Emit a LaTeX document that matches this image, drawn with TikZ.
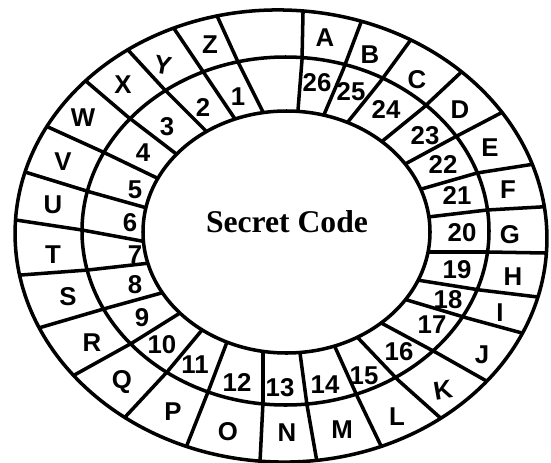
\documentclass[tikz,border=0pt]{standalone}
\usepackage{fontspec}
\setmainfont{Liberation Serif}
\setsansfont{Liberation Sans}

\tikzset{
  letter/.style={font=\sffamily\bfseries\fontsize{22}{26}\selectfont,inner sep=0pt},
  numlabel/.style={font=\sffamily\bfseries\fontsize{22}{26}\selectfont,inner sep=0pt},
  title/.style={font=\rmfamily\bfseries\fontsize{27}{32}\selectfont,inner sep=0pt},
  spoke/.style={shorten <=-6pt,shorten >=-6pt},
}

\begin{document}
\begin{tikzpicture}[x=0.3mm,y=-0.3mm,line width=3pt,line cap=round,line join=round]
\path[use as bounding box] (0,0) rectangle (551,462);
% spokes, outer -> middle -> inner
\begin{scope}
\clip[rotate around={-2:(281,236)}] (281,236) ellipse [x radius=266,y radius=226];
\draw[spoke] (303,13) -- (302,60) -- (298,110);
\draw[spoke] (360,25) -- (343,70) -- (323,117);
\draw[spoke] (407,45) -- (380,82) -- (347,123);
\draw[spoke] (455,78) -- (423,108) -- (380,143);
\draw[spoke] (497,115) -- (455,137) -- (407,163);
\draw[spoke] (528,165) -- (477,173) -- (418,190);
\draw[spoke] (540,207) -- (487,210) -- (428,217);
\draw[spoke] (545,253) -- (488,252) -- (427,252);
\draw[spoke] (538,297) -- (480,290) -- (417,280);
\draw[spoke] (522,333) -- (467,318) -- (407,300);
\draw[spoke] (490,383) -- (437,353) -- (385,325);
\draw[spoke] (445,422) -- (398,380) -- (360,340);
\draw[spoke] (383,450) -- (358,398) -- (335,347);
\draw[spoke] (317,462) -- (307,405) -- (300,353);
\draw[spoke] (260,462) -- (263,402) -- (263,352);
\draw[spoke] (187,445) -- (208,392) -- (227,342);
\draw[spoke] (127,415) -- (167,372) -- (202,330);
\draw[spoke] (78,373) -- (132,343) -- (180,313);
\draw[spoke] (42,327) -- (107,308) -- (165,292);
\draw[spoke] (21,275) -- (88,270) -- (150,263);
\draw[spoke] (16,220) -- (82,230) -- (147,242);
\draw[spoke] (25,172) -- (90,192) -- (147,208);
\draw[spoke] (48,127) -- (103,152) -- (157,178);
\draw[spoke] (87,82) -- (128,117) -- (175,153);
\draw[spoke] (128,50) -- (163,88) -- (203,128);
\draw[spoke] (175,30) -- (202,70) -- (233,116);
\draw[spoke] (218,18) -- (238,62) -- (263,112);
\end{scope}
% rings
\fill[white] (286.5,232) ellipse [x radius=143.5,y radius=121];
\draw (286.5,232) ellipse [x radius=143.5,y radius=121];
\draw (285.5,231) ellipse [x radius=203.5,y radius=174];
\draw[rotate around={-2:(281,236)}] (281,236) ellipse [x radius=266,y radius=226];
% outer ring
\node[letter] (letA) at (325,38) {A};
\node[letter] (letB) at (370,55) {B};
\node[letter] (letC) at (417,80) {C};
\node[letter] (letD) at (460,110) {D};
\node[letter] (letE) at (490,148) {E};
\node[letter] (letF) at (508,190) {F};
\node[letter] (letG) at (510,235) {G};
\node[letter] (letH) at (513,277) {H};
\node[letter] (letI) at (500,313) {I};
\node[letter] (letJ) at (482,355) {J};
\node[letter,rotate=10] (letK) at (443,390) {K};
\node[letter] (letL) at (397,417) {L};
\node[letter] (letM) at (342,430) {M};
\node[letter] (letN) at (287,433) {N};
\node[letter] (letO) at (228,432) {O};
\node[letter] (letP) at (173,412) {P};
\node[letter] (letQ) at (122,382) {Q};
\node[letter] (letR) at (92,343) {R};
\node[letter] (letS) at (68,297) {S};
\node[letter] (letT) at (53,255) {T};
\node[letter] (letU) at (53,205) {U};
\node[letter] (letV) at (63,162) {V};
\node[letter] (letW) at (83,118) {W};
\node[letter] (letX) at (123,85) {X};
\node[letter,rotate=-10] (letY) at (163,65) {Y};
\node[letter] (letZ) at (210,45) {Z};
% inner ring
\node[numlabel] (num1) at (238,97) {1};
\node[numlabel] (num2) at (203,107) {2};
\node[numlabel] (num3) at (167,127) {3};
\node[numlabel] (num4) at (143,153) {4};
\node[numlabel] (num5) at (135,190) {5};
\node[numlabel] (num6) at (130,223) {6};
\node[numlabel] (num7) at (135,255) {7};
\node[numlabel] (num8) at (135,285) {8};
\node[numlabel] (num9) at (142,318) {9};
\node[numlabel] (num10) at (162,345) {10};
\node[numlabel] (num11) at (195,365) {11};
\node[numlabel] (num12) at (237,382) {12};
\node[numlabel] (num13) at (280,388) {13};
\node[numlabel] (num14) at (325,385) {14};
\node[numlabel] (num15) at (364,376) {15};
\node[numlabel] (num16) at (399,352) {16};
\node[numlabel] (num17) at (432,325) {17};
\node[numlabel] (num18) at (448,300) {18};
\node[numlabel] (num19) at (457,270) {19};
\node[numlabel] (num20) at (462,233) {20};
\node[numlabel] (num21) at (457,195) {21};
\node[numlabel] (num22) at (443,164) {22};
\node[numlabel] (num23) at (425,136) {23};
\node[numlabel] (num24) at (386,109) {24};
\node[numlabel] (num25) at (351,92) {25};
\node[numlabel] (num26) at (317,83) {26};
% centre
\node[title] (secret) at (287,222) {Secret Code};
\end{tikzpicture}
\end{document}
